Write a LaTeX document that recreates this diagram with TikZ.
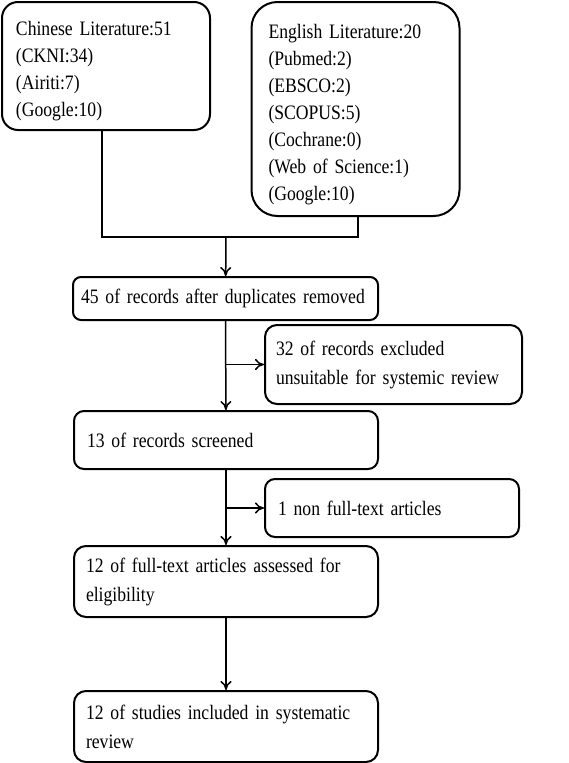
\documentclass[tikz,border=0pt]{standalone}
\usepackage{fontspec}
\setmainfont[FakeStretch=0.86]{Liberation Serif}
\usetikzlibrary{arrows.meta}
\begin{document}
\begin{tikzpicture}[x=1pt, y=-1pt,
    box/.style={draw, line width=2pt, align=left, inner xsep=12pt, inner ysep=0pt,
        font=\fontsize{20.5}{29}\selectfont},
    tall/.style={font=\fontsize{20.5}{27}\selectfont},
    flow/.style={line width=1.5pt},
    arr/.style={flow, -{To[length=9pt,width=11pt]}}]
    \useasboundingbox (0,0) rectangle (568,763);

    \node[box, tall, rounded corners=16pt, text width=180pt, inner xsep=14pt, minimum height=128pt] (chin) at (106,66)
        {\rule{0pt}{24pt}Chinese Literature:51\\(CKNI:34)\\(Airiti:7)\\(Google:10)};
    \node[box, tall, rounded corners=26pt, text width=174pt, inner xsep=17pt, minimum height=214pt] (eng) at (355.5,109)
        {\rule{0pt}{25pt}English Literature:20\\(Pubmed:2)\\(EBSCO:2)\\(SCOPUS:5)\\(Cochrane:0)\\(Web of Science:1)\\(Google:10)};

    \node[box, rounded corners=8pt, text width=289pt, inner xsep=8pt, minimum height=43pt] (dup) at (225.5,298.5)
        {45 of records after duplicates removed};
    \node[box, rounded corners=12pt, text width=235pt, inner xsep=11pt, minimum height=79pt] (excl) at (393.5,364.5)
        {32 of records excluded\\unsuitable for systemic review};
    \node[box, rounded corners=10pt, text width=278pt, inner xsep=13pt, minimum height=58pt] (scr) at (226,440)
        {13 of records screened};
    \node[box, rounded corners=10pt, text width=228pt, inner xsep=13pt, minimum height=58pt] (nonft) at (392,508)
        {1 non full-text articles};
    \node[box, rounded corners=12pt, text width=280pt, minimum height=71pt] (elig) at (226,581.5)
        {12 of full-text articles assessed for\\eligibility};
    \node[box, rounded corners=12pt, text width=280pt, minimum height=71pt] (incl) at (226,726.5)
        {12 of studies included in systematic\\review};

    \coordinate (join) at (226,237);
    \draw[flow] (chin.south -| 102,0) |- (join) -| (eng.south -| 358,0);
    \draw[arr] (join) -- (dup);

    \draw[arr] (dup) -- (scr);
    \draw[arr] (dup.south |- excl.west) -- (excl.west);
    \draw[arr] (scr) -- (elig);
    \draw[arr] (scr.south |- nonft.west) -- (nonft.west);
    \draw[arr] (elig) -- (incl);
\end{tikzpicture}
\end{document}
